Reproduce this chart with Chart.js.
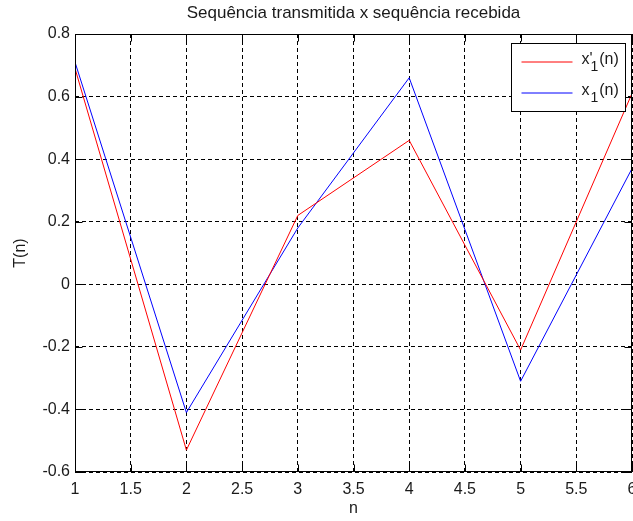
<!DOCTYPE html>
<html>
<head>
<meta charset="utf-8">
<script src="https://cdn.jsdelivr.net/npm/chart.js@4"></script>
<style>
  html, body { margin: 0; padding: 0; background: #fff; }
</style>
</head>
<body>
<canvas id="chart" width="633" height="521"></canvas>
<script>
const titleText = "Sequência transmitida x sequência recebida";
const xLabel = "n";
const yLabel = "T(n)";
const nValues = [1, 2, 3, 4, 5, 6];
const received = [0.69, -0.53, 0.22, 0.46, -0.21, 0.61];    // x'1(n), red
const transmitted = [0.71, -0.41, 0.18, 0.66, -0.31, 0.37]; // x1(n), blue
const xTicks = [1, 1.5, 2, 2.5, 3, 3.5, 4, 4.5, 5, 5.5, 6];
const yTicks = [-0.6, -0.4, -0.2, 0, 0.2, 0.4, 0.6, 0.8];
// legend text pieces: base, prime, subscript, rest
const legendParts = [["x", "'", "1", "(n)"], ["x", "", "1", "(n)"]];

const FONT = '"Liberation Sans", Arial, sans-serif';
const TEXT = "#1a1a1a";

function points(ys) {
  return nValues.map((n, i) => ({ x: n, y: ys[i] }));
}

const frame = {
  id: "frame",
  afterDatasetsDraw(chart) {
    const { ctx, chartArea: a, scales } = chart;
    const L = Math.round(a.left) + 0.5, R = Math.round(a.right) - 0.5;
    const T = Math.round(a.top) + 0.5, B = Math.round(a.bottom) - 0.5;
    ctx.save();
    ctx.strokeStyle = "#000";
    ctx.lineWidth = 1;
    ctx.setLineDash([]);
    ctx.strokeRect(L, T, R - L, B - T);

    // inward tick marks on all four sides
    const tl = 7;
    ctx.beginPath();
    xTicks.forEach(v => {
      const px = Math.round(scales.x.getPixelForValue(v)) + 0.5;
      ctx.moveTo(px, B); ctx.lineTo(px, B - tl);
      ctx.moveTo(px, T); ctx.lineTo(px, T + tl);
    });
    yTicks.forEach(v => {
      const py = Math.round(scales.y.getPixelForValue(v)) + 0.5;
      ctx.moveTo(L, py); ctx.lineTo(L + tl, py);
      ctx.moveTo(R, py); ctx.lineTo(R - tl, py);
    });
    ctx.stroke();

    // legend box
    const bw = 114, bh = 68;
    const bx = R - 6 - bw, by = T + 9;
    ctx.fillStyle = "#fff";
    ctx.fillRect(bx, by, bw, bh);
    ctx.strokeRect(bx, by, bw, bh);
    chart.data.datasets.forEach((ds, i) => {
      const ly = Math.round(by + 18 + i * 31);
      ctx.strokeStyle = ds.borderColor;
      ctx.beginPath();
      ctx.moveTo(bx + 10, ly); ctx.lineTo(bx + 61, ly);
      ctx.stroke();
      const p = legendParts[i];
      let tx = bx + 70;
      ctx.fillStyle = TEXT;
      ctx.textBaseline = "middle";
      ctx.textAlign = "left";
      ctx.font = "16px " + FONT;
      ctx.fillText(p[0], tx, ly - 2);
      tx += ctx.measureText(p[0]).width;
      if (p[1]) {
        ctx.fillText(p[1], tx, ly - 2);
      }
      ctx.font = "14px " + FONT;
      ctx.fillText(p[2], tx + 1, ly + 5);
      tx += ctx.measureText(p[2]).width + 2;
      ctx.font = "16px " + FONT;
      ctx.fillText(p[3], tx, ly - 2);
    });

    // title
    ctx.fillStyle = TEXT;
    ctx.font = "17px " + FONT;
    ctx.textAlign = "center";
    ctx.textBaseline = "middle";
    ctx.fillText(titleText, (L + R) / 2, 13);
    ctx.restore();
  }
};

const gridOpts = { color: "#000", lineWidth: 1, drawTicks: false };
const borderOpts = { display: false, dash: [4, 3] };
const tickFont = { family: FONT, size: 16 };
const fmt = v => String(Math.round(v * 10) / 10);

new Chart(document.getElementById("chart").getContext("2d"), {
  type: "line",
  data: {
    datasets: [
      { label: "x'1(n)", data: points(received), borderColor: "#ff0000",
        borderWidth: 1, pointRadius: 0, tension: 0, fill: false },
      { label: "x1(n)", data: points(transmitted), borderColor: "#0000ff",
        borderWidth: 1, pointRadius: 0, tension: 0, fill: false }
    ]
  },
  options: {
    responsive: false,
    animation: false,
    layout: { padding: { top: 34, right: 1, left: 0, bottom: 0 } },
    plugins: { legend: { display: false }, title: { display: false }, tooltip: { enabled: false } },
    scales: {
      x: {
        type: "linear", min: 1, max: 6,
        grid: gridOpts, border: borderOpts,
        afterBuildTicks: s => { s.ticks = xTicks.map(v => ({ value: v })); },
        ticks: { font: tickFont, color: TEXT, padding: 8, maxRotation: 0, autoSkip: false, callback: fmt },
        title: { display: true, text: xLabel, font: tickFont, color: TEXT, padding: { top: 0, bottom: 3 } },
        afterFit: s => { s.height = 49; s.paddingLeft = 0; s.paddingRight = 0; }
      },
      y: {
        type: "linear", min: -0.6, max: 0.8,
        grid: gridOpts, border: borderOpts,
        afterBuildTicks: s => { s.ticks = yTicks.map(v => ({ value: v })); },
        ticks: { font: tickFont, color: TEXT, padding: 5, autoSkip: false, callback: fmt },
        title: { display: true, text: yLabel, font: tickFont, color: TEXT, padding: { top: 11, bottom: 0 } },
        afterFit: s => { s.width = 75; s.paddingTop = 0; s.paddingBottom = 0; }
      }
    }
  },
  plugins: [frame]
});
</script>
</body>
</html>
